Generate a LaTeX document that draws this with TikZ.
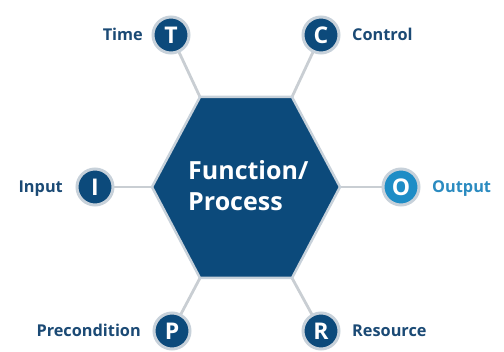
\documentclass[tikz,border=0pt]{standalone}
\usepackage{fontspec}
\setmainfont{Open Sans}
\definecolor{dkblue}{HTML}{0C4A7B}
\definecolor{ltblue}{HTML}{1E8DC6}
\definecolor{ringgray}{HTML}{C7D1DA}
\definecolor{linegray}{HTML}{C9CED3}
\definecolor{lbltext}{HTML}{1B4A75}
\definecolor{outtext}{HTML}{2B8BC0}
\begin{document}
\begin{tikzpicture}[x=1pt,y=-1pt,
  letter/.style={circle,fill=dkblue,draw=ringgray,line width=3pt,minimum size=36pt,inner sep=0pt,
    text=white,font=\fontsize{23}{23}\selectfont\bfseries,text height=16.4pt,text depth=0pt},
  lbl/.style={inner sep=0pt,text=lbltext,font=\fontsize{16.3}{16}\selectfont\bfseries},
  conn/.style={draw=linegray,line width=2.8pt}]
\useasboundingbox (0,0) rectangle (504,352);
% hexagon vertices
\coordinate (hl) at (152,187);
\coordinate (htl) at (200,97);
\coordinate (htr) at (292,97);
\coordinate (hr) at (340,187);
\coordinate (hbr) at (292,278);
\coordinate (hbl) at (200,278);
% circle positions
\coordinate (pT) at (171,35);
\coordinate (pC) at (321,35);
\coordinate (pI) at (95,187);
\coordinate (pO) at (401,187);
\coordinate (pP) at (172,331);
\coordinate (pR) at (321,331);
% connectors
\draw[conn] (pT) -- (htl);
\draw[conn] (pC) -- (htr);
\draw[conn] (pI) -- (hl);
\draw[conn] (pO) -- (hr);
\draw[conn] (pP) -- (hbl);
\draw[conn] (pR) -- (hbr);
% hexagon
\filldraw[fill=dkblue,draw=ringgray,line width=2.5pt,line join=miter]
  (hl) -- (htl) -- (htr) -- (hr) -- (hbr) -- (hbl) -- cycle;
\node[anchor=base west,inner sep=0pt,text=white,align=left,
  font=\fontsize{25}{31}\selectfont\bfseries] (F) at (188,211) {Function/\\Process};
% circles above connectors
\node[letter] (T) at (pT) {T};
\node[letter] (C) at (pC) {C};
\node[letter] (I) at (pI) {I};
\node[letter,fill=ltblue] (O) at (pO) {O};
\node[letter] (P) at (pP) {P};
\node[letter] (R) at (pR) {R};
% labels
\node[lbl,anchor=base east] (lT) at (143,41) {Time};
\node[lbl,anchor=base west] (lC) at (352,41) {Control};
\node[lbl,anchor=base east] (lI) at (63,192.5) {Input};
\node[lbl,anchor=base west,text=outtext] (lO) at (432,192.5) {Output};
\node[lbl,anchor=base east] (lP) at (141,337) {Precondition};
\node[lbl,anchor=base west] (lR) at (352,337) {Resource};
\end{tikzpicture}
\end{document}
